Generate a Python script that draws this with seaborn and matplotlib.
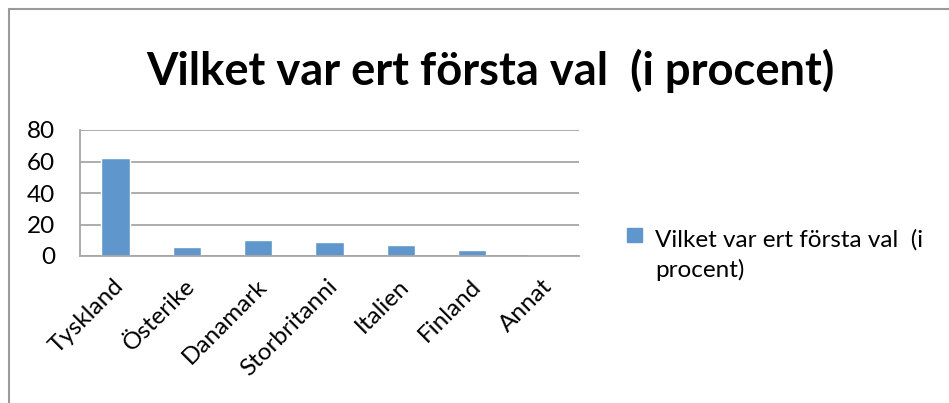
import numpy as np
import pandas as pd
import seaborn as sns
import matplotlib.pyplot as plt
import matplotlib.transforms as mtransforms
from matplotlib.patches import Rectangle
from matplotlib.lines import Line2D

categories = ["Tyskland", "Österike", "Danamark", "Storbritanni", "Italien", "Finland", "Annat"]
values = [62, 6, 10, 9, 7, 4, 0.5]
series_name = "Vilket var ert första val  (i procent)"
legend_label = "Vilket var ert första val  (i\nprocent)"
yticks = [0, 20, 40, 60, 80]

BAR = "#5f97cc"
GRID = "#a6a6a6"
W, H = 949, 403

sns.set_style("white")
plt.rcParams["font.family"] = ["Lato", "DejaVu Sans"]
plt.rcParams["text.color"] = "black"


def fit_size(fig, text, width_px, weight="normal"):
    # font size that makes `text` about width_px wide
    t = fig.text(0, 0, text, fontsize=20, fontweight=weight)
    w = t.get_window_extent(fig.canvas.get_renderer()).width
    t.remove()
    return 20 * width_px / w


df = pd.DataFrame({"land": categories, "procent": values})

fig = plt.figure(figsize=(W / 100, H / 100), dpi=100)
ax = fig.add_axes([80 / W, 1 - 256 / H, 499 / W, 126 / H])

fs = fit_size(fig, legend_label.split("\n")[0], 268)
title_fs = fit_size(fig, series_name, 688, "bold")

sns.barplot(data=df, x="land", y="procent", color=BAR, width=0.4,
            saturation=1, ax=ax)

ax.set_ylim(0, 80)
ax.set_xlim(-0.5, len(categories) - 0.5)
ax.set_yticks(yticks)
ax.set_xlabel("")
ax.set_ylabel("")
ax.yaxis.grid(True, color=GRID, lw=1.3)
ax.set_axisbelow(True)
for s in ["top", "right"]:
    ax.spines[s].set_visible(False)
for s in ["left", "bottom"]:
    ax.spines[s].set_color(GRID)
    ax.spines[s].set_linewidth(1.3)

# ticks between categories on x, outward ticks on y
ax.set_xticks(np.arange(len(categories) + 1) - 0.5, minor=True)
ax.tick_params(axis="x", which="minor", length=6, width=1.3, color=GRID)
ax.tick_params(axis="x", which="major", length=0, pad=0)
ax.tick_params(axis="y", length=6, width=1.3, color=GRID, labelcolor="black",
               labelsize=fs, pad=12)

ax.set_xticks(range(len(categories)))
ax.set_xticklabels(categories, rotation=45, ha="right", va="center",
                   rotation_mode="anchor", fontsize=fs, color="black")
offset = mtransforms.ScaledTranslation(0.05, -0.27, fig.dpi_scale_trans)
for lab in ax.get_xticklabels():
    lab.set_transform(lab.get_transform() + offset)

fig.text(490 / W, 1 - 85 / H, series_name, ha="center", va="baseline",
         fontsize=title_fs, fontweight="bold")

# legend
fig.patches.append(Rectangle((627 / W, 1 - 242 / H), 15 / W, 14 / H,
                             transform=fig.transFigure, color=BAR))
for i, line in enumerate(legend_label.split("\n")):
    fig.text(655 / W, 1 - (247 + 30 * i) / H, line, ha="left", va="baseline",
             fontsize=fs)

# chart frame
fig.add_artist(Line2D([8.5 / W, 1], [1 - 8.5 / H] * 2, color="#9a9a9a", lw=1.5))
fig.add_artist(Line2D([8.5 / W] * 2, [0, 1 - 8.5 / H], color="#9a9a9a", lw=1.5))

fig.savefig("out.png", dpi=100)
